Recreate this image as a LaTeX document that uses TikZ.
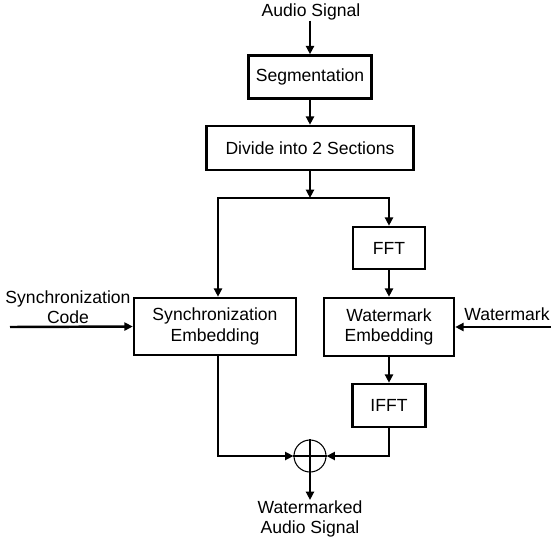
\documentclass[tikz,border=0pt]{standalone}
\usepackage{fontspec}
\setmainfont{Liberation Sans}
\usetikzlibrary{arrows.meta,calc,positioning}
\tikzset{
  wm text/.style={font=\fontsize{10}{11.6}\selectfont, text=black},
  wm block/.style={draw=black, line width=1.4pt, fill=white, align=center,
    inner sep=0pt, font=\fontsize{10}{11.6}\selectfont},
  wm label/.style={align=center, inner sep=0pt, font=\fontsize{10}{11.6}\selectfont},
  wm arrow/.style={-{Triangle[length=4.8pt,width=4.6pt]}, line width=1.4pt,
    line cap=butt},
  wm sum/.style={draw=black, circle, line width=0.6pt, minimum size=0.64cm,
    inner sep=0pt}
}

\begin{document}
\begin{tikzpicture}[wm text, x=0.02cm, y=-0.02cm]
  \useasboundingbox (0,0) rectangle (551,542);
  % main column
  \node[wm label] (audio) at (311,12) {Audio Signal};
  \node[wm block, minimum width=2.46cm, minimum height=0.86cm] (seg) at (310,77) {Segmentation};
  \node[wm block, minimum width=4.14cm, minimum height=0.88cm] (div) at (310,148) {Divide into 2 Sections};
  \draw[wm arrow] (audio.south -| seg.north) -- (seg.north);
  \draw[wm arrow] (seg) -- (div);
  % split into the two branches
  \coordinate (split) at (310,198);
  \coordinate (left) at (218,198);
  \draw[wm arrow] (div.south) -- (split);
  % right branch
  \node[wm block, minimum width=1.44cm, minimum height=0.84cm] (fft) at (389,248) {FFT};
  \node[wm block, minimum width=2.6cm, minimum height=1.16cm] (embed) at (389,327) {Watermark\\Embedding};
  \node[wm block, minimum width=1.46cm, minimum height=0.86cm] (ifft) at (389,405.5) {IFFT};
  \draw[wm arrow] (split) -| (fft.north);
  \draw[wm arrow] (fft) -- (embed);
  \draw[wm arrow] (embed) -- (ifft);
  \node[wm label] (mark) at (507,314) {Watermark};
  \coordinate (markin) at (551,327);
  \draw[wm arrow] (markin) -- (embed.east);
  % left branch
  \node[wm block, minimum width=3.24cm, minimum height=1.14cm] (sync) at (215,326.5) {Synchronization\\Embedding};
  \draw[wm arrow] (split) -| (left |- sync.north);
  \node[wm label] (code) at (68,307) {Synchronization\\Code};
  \coordinate (codein) at (10,327);
  \draw[wm arrow] (codein) -- (sync.west);
  % adder and output
  \node[wm sum] (sum) at (310,456) {};
  \draw[line width=0.6pt] (sum.north) -- (sum.south) (sum.west) -- (sum.east);
  \draw[wm arrow] (left |- sync.south) |- (sum.west);
  \draw[wm arrow] (ifft.south) |- (sum.east);
  \node[wm label, anchor=north] (out) at (310,500) {Watermarked\\Audio Signal};
  \draw[wm arrow] (sum.south) -- (out.north);
\end{tikzpicture}
\end{document}
